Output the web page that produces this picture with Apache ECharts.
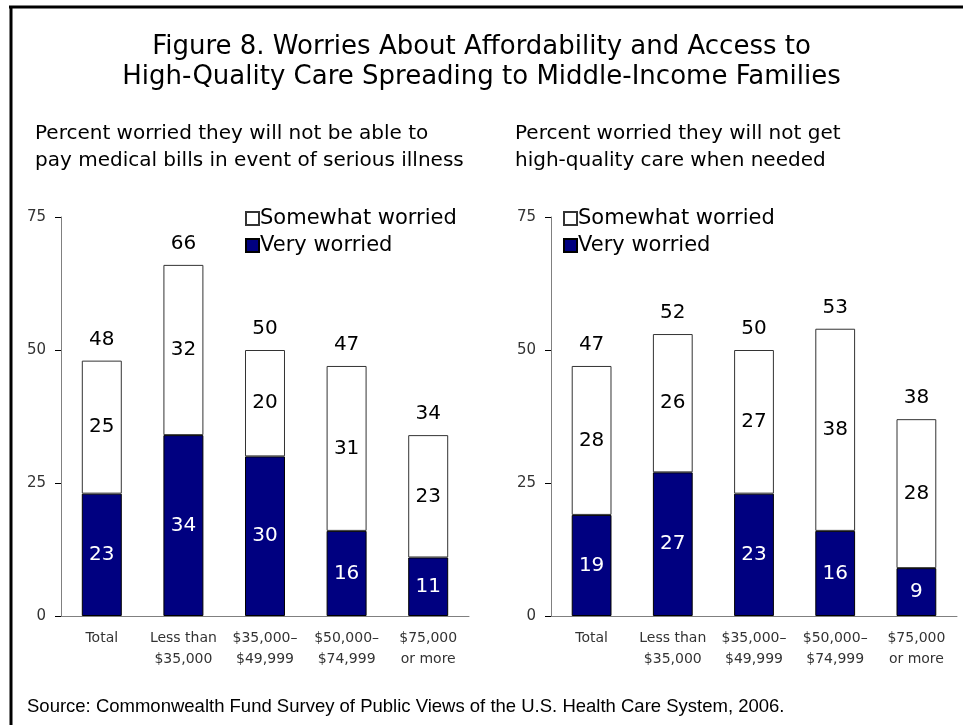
<!DOCTYPE html>
<html lang="en">

<head>
    <meta charset="UTF-8">
    <title>Figure 8</title>
    <script src="https://cdn.jsdelivr.net/npm/echarts@6/dist/echarts.min.js"></script>
    <style>
        body { margin: 0; background: #fff; }
    </style>
</head>

<body>
    <div id="main" style="width: 963px;height:725px;"></div>
    <script type="text/javascript">
        // categories
        var groups = ['Total', 'Less than\n$35,000', '$35,000–\n$49,999', '$50,000–\n$74,999', '$75,000\nor more'];
        var yTicks = [0, 25, 50, 75];

        // left panel: pay medical bills
        var billsVery = [23, 34, 30, 16, 11];
        var billsSomewhat = [25, 32, 20, 31, 23];
        var billsTotal = [48, 66, 50, 47, 34];

        // right panel: high-quality care
        var careVery = [19, 27, 23, 16, 9];
        var careSomewhat = [28, 26, 27, 38, 28];
        var careTotal = [47, 52, 50, 53, 38];

        var font = 'DejaVu Sans';
        var navy = '#000080';

        var myChart = echarts.init(document.getElementById('main'));

        function xAxisFor(i) {
            return {
                type: 'category', gridIndex: i, data: groups,
                axisLine: { lineStyle: { color: '#808080', width: 1 } },
                axisTick: { length: 6, lineStyle: { color: '#000' } },
                axisLabel: { color: '#333', fontFamily: font, fontSize: 14, lineHeight: 21, margin: 12, interval: 0 }
            };
        }
        function yAxisFor(i) {
            return {
                type: 'value', gridIndex: i, min: yTicks[0], max: yTicks[yTicks.length - 1], interval: 25,
                axisLine: { show: true, lineStyle: { color: '#808080', width: 1 } },
                axisTick: { show: true, length: 6, lineStyle: { color: '#000' } },
                splitLine: { show: false },
                axisLabel: { color: '#333', fontFamily: font, fontSize: 15, margin: 15 }
            };
        }
        function stackSeries(i, very, somewhat, total) {
            var st = 's' + i;
            return [
                {
                    name: 'Very worried', type: 'bar', stack: st, xAxisIndex: i, yAxisIndex: i,
                    barWidth: '49%', data: very,
                    itemStyle: { color: navy, borderColor: '#000', borderWidth: 1 },
                    label: { show: true, position: 'inside', color: '#fff', fontFamily: font, fontSize: 20 }
                },
                {
                    name: 'Somewhat worried', type: 'bar', stack: st, xAxisIndex: i, yAxisIndex: i,
                    data: somewhat,
                    itemStyle: { color: '#fff', borderColor: '#333', borderWidth: 1 },
                    label: { show: true, position: 'inside', color: '#000', fontFamily: font, fontSize: 20 }
                },
                {
                    // zero-height cap that carries the reported total above each stack
                    name: 'total' + i, type: 'bar', stack: st, xAxisIndex: i, yAxisIndex: i,
                    data: total.map(function () { return 0; }),
                    itemStyle: { color: 'transparent' },
                    label: {
                        show: true, position: 'top', distance: 11, color: '#000', fontFamily: font, fontSize: 20,
                        formatter: function (p) { return total[p.dataIndex]; }
                    },
                    silent: true
                }
            ];
        }
        function legendFor(left) {
            return {
                data: ['Somewhat worried', 'Very worried'],
                orient: 'vertical', left: left, top: 203,
                itemWidth: 13, itemHeight: 13, itemGap: 6,
                icon: 'rect',
                textStyle: { color: '#000', fontFamily: font, fontSize: 21, padding: [0, 0, 0, -4] },
                selectedMode: false
            };
        }

        option = {
            animation: false,
            backgroundColor: '#fff',
            title: [
                {
                    text: 'Figure 8. Worries About Affordability and Access to\nHigh-Quality Care Spreading to Middle-Income Families',
                    left: 'center', top: 27,
                    textStyle: { color: '#000', fontFamily: font, fontSize: 26, fontWeight: 'normal', lineHeight: 30 }
                },
                {
                    text: 'Percent worried they will not be able to\npay medical bills in event of serious illness',
                    left: 30, top: 115,
                    textStyle: { color: '#000', fontFamily: font, fontSize: 20, fontWeight: 'normal', lineHeight: 27 }
                },
                {
                    text: 'Percent worried they will not get\nhigh-quality care when needed',
                    left: 510, top: 115,
                    textStyle: { color: '#000', fontFamily: font, fontSize: 20, fontWeight: 'normal', lineHeight: 27 }
                },
                {
                    text: 'Source: Commonwealth Fund Survey of Public Views of the U.S. Health Care System, 2006.',
                    left: 22, top: 692,
                    textStyle: { color: '#000', fontFamily: 'Liberation Sans', fontSize: 18.5, fontWeight: 'normal' }
                }
            ],
            legend: [legendFor(240), legendFor(558)],
            grid: [
                { left: 61, top: 217, width: 408, height: 399 },
                { left: 551, top: 217, width: 406, height: 399 }
            ],
            xAxis: [xAxisFor(0), xAxisFor(1)],
            yAxis: [yAxisFor(0), yAxisFor(1)],
            series: stackSeries(0, billsVery, billsSomewhat, billsTotal)
                .concat(stackSeries(1, careVery, careSomewhat, careTotal)),
            graphic: [
                { type: 'line', shape: { x1: 9, y1: 7, x2: 963, y2: 7 }, style: { stroke: '#000', lineWidth: 3 } },
                { type: 'line', shape: { x1: 11, y1: 6, x2: 11, y2: 725 }, style: { stroke: '#000', lineWidth: 3 } }
            ]
        };

        myChart.setOption(option);
    </script>
</body>

</html>
